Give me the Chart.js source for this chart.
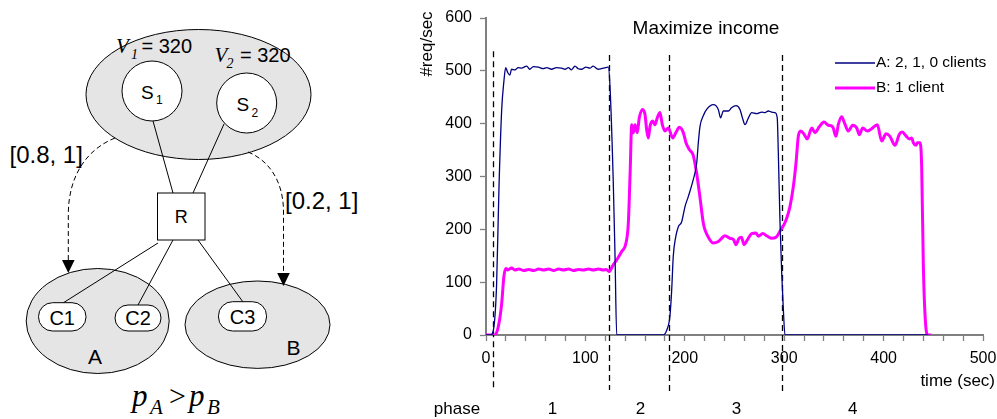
<!DOCTYPE html>
<html lang="en">
<head>
<meta charset="UTF-8">
<title>Maximize income</title>
<script src="https://cdn.jsdelivr.net/npm/chart.js"></script>
<style>
    body { margin: 0; background: #fff; }
    .janela { position: relative; width: 997px; height: 419px; overflow: hidden; }
    #diagrama { position: absolute; left: 0; top: 0; }
    #grafico { position: absolute; left: 400px; top: 0; }
    .sans { font-family: Arial, "Liberation Sans", sans-serif; }
    .serif { font-family: "Times New Roman", "Liberation Serif", serif; font-style: italic; }
</style>
</head>
<body>
<div class="janela">
    <svg id="diagrama" width="400" height="419" viewBox="0 0 400 419">
        <!-- server group -->
        <ellipse cx="198.5" cy="94.5" rx="112.5" ry="65" fill="#e5e5e5" stroke="#000" stroke-width="1"/>
        <!-- client groups -->
        <ellipse cx="97.7" cy="321" rx="71.5" ry="52.5" fill="#e5e5e5" stroke="#000" stroke-width="1"/>
        <ellipse cx="257.5" cy="324.7" rx="72.5" ry="43.7" fill="#e5e5e5" stroke="#000" stroke-width="1"/>

        <!-- links -->
        <line x1="153" y1="121" x2="173" y2="193" stroke="#000" stroke-width="1"/>
        <line x1="224" y1="124" x2="193" y2="193" stroke="#000" stroke-width="1"/>
        <line x1="158" y1="243" x2="63" y2="303" stroke="#000" stroke-width="1"/>
        <line x1="173" y1="240" x2="138" y2="305" stroke="#000" stroke-width="1"/>
        <line x1="198" y1="240" x2="243" y2="302" stroke="#000" stroke-width="1"/>

        <!-- dashed arrows -->
        <path d="M115,138 C90,148 68.3,172 68.3,215 L68.3,261" fill="none" stroke="#000" stroke-width="1" stroke-dasharray="5,3"/>
        <polygon points="62,260 74.6,260 68.3,273" fill="#000"/>
        <path d="M248,152 C268,160 283.5,180 283.5,212 L283.5,274" fill="none" stroke="#000" stroke-width="1" stroke-dasharray="5,3"/>
        <polygon points="277.2,273 289.8,273 283.5,286" fill="#000"/>

        <!-- servers -->
        <circle cx="152" cy="91" r="30" fill="#fff" stroke="#000" stroke-width="1"/>
        <circle cx="246.7" cy="103" r="30" fill="#fff" stroke="#000" stroke-width="1"/>
        <text class="sans" x="141" y="98.5" font-size="19">S</text>
        <text class="sans" x="156" y="104" font-size="12">1</text>
        <text class="sans" x="236.5" y="111" font-size="19">S</text>
        <text class="sans" x="251.5" y="117" font-size="12">2</text>

        <text class="serif" x="116" y="53.3" font-size="21">V</text>
        <text class="serif" x="131" y="59" font-size="14">1</text>
        <text class="sans" x="141.5" y="53.3" font-size="20">= 320</text>
        <text class="serif" x="214.5" y="61.7" font-size="21">V</text>
        <text class="serif" x="226.5" y="68" font-size="14">2</text>
        <text class="sans" x="240" y="61.7" font-size="20">= 320</text>

        <!-- router -->
        <rect x="157.5" y="193" width="47.5" height="47" fill="#fff" stroke="#000" stroke-width="1"/>
        <text class="sans" x="181.2" y="223" font-size="18" text-anchor="middle">R</text>

        <!-- clients -->
        <rect x="38.5" y="302.7" width="47.5" height="28.3" rx="14" fill="#fff" stroke="#000" stroke-width="1"/>
        <rect x="115" y="305" width="46" height="26" rx="13" fill="#fff" stroke="#000" stroke-width="1"/>
        <rect x="218.5" y="301.7" width="48" height="29.3" rx="14" fill="#fff" stroke="#000" stroke-width="1"/>
        <text class="sans" x="62.2" y="324.5" font-size="20" text-anchor="middle">C1</text>
        <text class="sans" x="138" y="325" font-size="20" text-anchor="middle">C2</text>
        <text class="sans" x="242.5" y="323.5" font-size="20" text-anchor="middle">C3</text>
        <text class="sans" x="95" y="364" font-size="21" text-anchor="middle">A</text>
        <text class="sans" x="293.5" y="355" font-size="21" text-anchor="middle">B</text>

        <!-- shares -->
        <text class="sans" x="9.5" y="162.5" font-size="24">[0.8, 1]</text>
        <text class="sans" x="285" y="209.3" font-size="24">[0.2, 1]</text>

        <!-- prices -->
        <text class="serif" x="132" y="406" font-size="31">p</text>
        <text class="serif" x="150" y="414" font-size="21">A</text>
        <text x="169" y="406" font-size="30" font-family="Times New Roman, Liberation Serif, serif">&gt;</text>
        <text class="serif" x="189" y="406" font-size="31">p</text>
        <text class="serif" x="207" y="414" font-size="21">B</text>
    </svg>

    <canvas id="grafico" width="597" height="419"></canvas>
</div>

<script>
    // tempo (s) e requisicoes/s
    const tempoA = [0, 4.7, 8, 10.7, 13, 15.8, 18, 19.8, 21.8, 24, 25.7, 29, 32.5, 35.8, 40.9, 44, 47.6,
        52.6, 57.6, 61, 66, 71, 76, 79.5, 82.8, 86, 89.5, 92.8, 96, 100.5, 104.5, 107.8, 112.8, 117.8,
        123, 124.7, 128, 129.8, 131.5, 178.4, 181.8, 185, 186.8, 188.4, 191, 193.5, 196.8, 200.2,
        203.5, 208.5, 212, 213.6, 215.3, 218.6, 222, 228.7, 233.7, 236, 238.8, 243.8, 247, 251.5,
        255.5, 258, 260.6, 264, 267.3, 272.3, 277.4, 280.7, 284, 287.4, 290.7, 293, 294, 295.8,
        297.5, 299, 300.8, 445];
    const reqA = [0, 0, 16, 98, 275, 427, 480, 506, 497, 492, 503, 502, 506, 505, 509, 503, 508,
        507, 504, 506, 503, 506, 505, 503, 506, 502, 509, 504, 503, 507, 505, 509, 503, 505,
        507, 472, 292, 150, 0, 0, 9, 35, 85, 149, 187, 205, 214, 243,
        262, 294, 326, 364, 395, 415, 427, 436, 427, 411, 424, 424, 430, 434,
        427, 411, 398, 411, 421, 419, 422, 421, 424, 422, 421, 411, 351, 212,
        117, 54, 0, 0];

    const tempoB = [0, 9, 12.4, 15.8, 18, 20, 22, 25.8, 29, 33, 38, 43, 48, 53, 58, 63, 68, 73, 78,
        83, 88, 93, 98, 103, 108, 113, 118, 121, 124, 128, 131.5, 136.5, 140.8, 143.2, 145, 146.6,
        148.2, 150, 152.2, 154.2, 157.6, 160, 161.6, 163.3, 165, 167.7, 170, 172.3, 175, 177.4, 180,
        183.4, 187.8, 191, 194.5, 198.5, 201.2, 204.5, 208.5, 212, 215.3, 218.6, 220.3, 223.7, 228.7,
        233.7, 237, 240.4, 245.4, 248.8, 251.5, 254.5, 257, 259.6, 262.9, 267.3, 271.6, 274, 278.4,
        283, 287.4, 291.8, 296.5, 299.8, 302.5, 305.8, 309.2, 311.9, 314.2, 316.6, 320, 323.2, 327.7,
        331, 335.3, 340, 344.4, 348.8, 352.1, 354.4, 357.8, 360.5, 364.5, 368.9, 372.9, 375.6, 379,
        383.6, 387.6, 393.7, 398.1, 402.4, 406.4, 411.5, 415.8, 418.8, 422.5, 425.9, 428.2, 429.9,
        432.6, 434, 436.6, 438.3, 440, 441.6, 444, 448];
    const reqB = [0, 0, 16, 60, 111, 126, 123, 127, 123, 125, 122, 124, 122, 125, 123, 125, 122, 125, 123,
        125, 122, 124, 123, 125, 123, 125, 123, 124, 120, 133, 142, 158, 174, 212, 307, 398,
        383, 398, 383, 411, 427, 417, 389, 373, 395, 405, 398, 411, 421, 398, 386,
        392, 373, 383, 393, 383, 364, 351, 340, 305, 260, 212, 199, 185, 174,
        177, 183, 188, 183, 181, 171, 183, 185, 171, 180, 192, 193, 187, 192,
        187, 183, 185, 199, 209, 221, 243, 281, 326, 376, 386, 380, 371, 392,
        383, 394, 403, 397, 394, 376, 398, 413, 402, 386, 397, 392, 379, 392,
        386, 390, 398, 367, 381, 376, 359, 380, 384, 377, 371, 373, 364,
        359, 364, 364, 319, 130, 41, 0, 0];

    const nomesSeries = ["A: 2, 1, 0 clients", "B: 1 client"];
    const ticksX = [0, 100, 200, 300, 400, 500];
    const ticksY = [0, 100, 200, 300, 400, 500, 600];
    const limitesFase = [7, 123.5, 184, 298];
    const rotulosFase = ["1", "2", "3", "4"];
    const centrosFase = [67, 155.5, 252, 369];

    const FONTE = 'Arial, "Liberation Sans", sans-serif';

    function pontos(xs, ys) {
        return xs.map(function (x, i) { return { x: x, y: ys[i] }; });
    }

    // textos, legenda e linhas tracejadas das fases
    const extras = {
        id: 'extras',
        beforeDatasetsDraw(chart) {
            const ctx = chart.ctx;
            const x = chart.scales.x;
            const y = chart.scales.y;
            ctx.save();
            ctx.strokeStyle = '#000';
            ctx.lineWidth = 1.3;
            ctx.setLineDash([6, 4]);
            limitesFase.forEach(function (t, i) {
                const px = Math.round(x.getPixelForValue(t)) + 0.5;
                ctx.beginPath();
                ctx.moveTo(px, y.getPixelForValue(i == 0 ? 537 : 530));
                ctx.lineTo(px, 389 + i);
                ctx.stroke();
            });
            ctx.restore();
        },
        afterDraw(chart) {
            const ctx = chart.ctx;
            const x = chart.scales.x;
            ctx.save();
            ctx.fillStyle = '#000';
            ctx.textBaseline = 'middle';

            ctx.font = '19px ' + FONTE;
            ctx.textAlign = 'center';
            ctx.fillText('Maximize income', 306, 29);

            ctx.font = '17px ' + FONTE;
            ctx.save();
            ctx.translate(27, 44);
            ctx.rotate(-Math.PI / 2);
            ctx.fillText('#req/sec', 0, 0);
            ctx.restore();

            ctx.textAlign = 'right';
            ctx.fillText('time (sec)', 595, 381);

            ctx.textAlign = 'center';
            ctx.fillText('phase', 57, 409);
            rotulosFase.forEach(function (r, i) {
                ctx.fillText(r, x.getPixelForValue(centrosFase[i]), 409);
            });

            // legenda
            ctx.font = '15.5px ' + FONTE;
            ctx.textAlign = 'left';
            chart.data.datasets.forEach(function (ds, i) {
                const ly = 63 + i * 25;
                ctx.strokeStyle = ds.borderColor;
                ctx.lineWidth = ds.borderWidth;
                ctx.beginPath();
                ctx.moveTo(435, ly);
                ctx.lineTo(475, ly);
                ctx.stroke();
                ctx.fillText(ds.label, 476, ly);
            });
            ctx.restore();
        }
    };

    const eixo = {
        type: 'linear',
        border: { color: '#808080', width: 2 },
        grid: { drawOnChartArea: false, tickLength: 6, color: '#808080', tickWidth: 1.3 },
        ticks: { color: '#000', font: { family: FONTE, size: 16 }, padding: 8 }
    };

    const myChart = new Chart(document.getElementById('grafico').getContext('2d'), {
        type: 'line',
        data: {
            datasets: [{
                label: nomesSeries[0],
                data: pontos(tempoA, reqA),
                borderColor: '#000080',
                borderWidth: 1.3,
                pointRadius: 0,
                cubicInterpolationMode: 'monotone'
            }, {
                label: nomesSeries[1],
                data: pontos(tempoB, reqB),
                borderColor: '#ff00ff',
                borderWidth: 3,
                pointRadius: 0,
                cubicInterpolationMode: 'monotone'
            }]
        },
        options: {
            responsive: false,
            animation: false,
            layout: { padding: { left: 0, right: 14, top: 18, bottom: 0 } },
            plugins: { legend: { display: false }, tooltip: { enabled: false } },
            scales: {
                x: Object.assign({}, eixo, {
                    min: 0, max: 500,
                    ticks: Object.assign({}, eixo.ticks, {
                        stepSize: 20, autoSkip: false, maxRotation: 0,
                        callback: function (v) { return ticksX.includes(v) ? String(v) : ''; }
                    }),
                    afterFit: function (s) {
                        s.height = 84;
                        s.paddingLeft = 0;
                        s.paddingRight = 0;
                    }
                }),
                y: Object.assign({}, eixo, {
                    min: 0, max: 600,
                    ticks: Object.assign({}, eixo.ticks, {
                        stepSize: 100,
                        callback: function (v) { return ticksY.includes(v) ? String(v) : ''; }
                    }),
                    afterFit: function (s) {
                        s.width = 86;
                        s.paddingTop = 0;
                        s.paddingBottom = 0;
                    }
                })
            }
        },
        plugins: [extras]
    });
</script>
</body>
</html>
